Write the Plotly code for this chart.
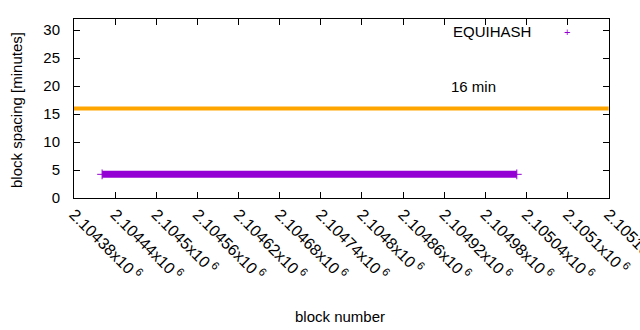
import plotly.graph_objects as go

# ---- data ----
equihash_blocks = [2104421, 2105026]
equihash_spacing = [4.23, 4.23]

target_blocks = [2104380, 2105160]
target_spacing = [16, 16]

x_tick_vals = [2104380, 2104440, 2104500, 2104560, 2104620, 2104680, 2104740,
               2104800, 2104860, 2104920, 2104980, 2105040, 2105100, 2105160]
x_tick_mant = ["2.10438", "2.10444", "2.1045", "2.10456", "2.10462", "2.10468", "2.10474",
               "2.1048", "2.10486", "2.10492", "2.10498", "2.10504", "2.1051", "2.10516"]
x_tick_text = [m + "x10<sup> 6</sup>" for m in x_tick_mant]
y_tick_vals = [0, 5, 10, 15, 20, 25, 30]

FONT = "Liberation Sans, Arial, sans-serif"
PURPLE = "#9400D3"
ORANGE = "#FFA500"

fig = go.Figure()

fig.add_trace(go.Scatter(
    x=target_blocks, y=target_spacing, mode="lines",
    line=dict(color=ORANGE, width=4), showlegend=False, hoverinfo="skip"))

fig.add_trace(go.Scatter(
    x=equihash_blocks, y=equihash_spacing, mode="lines+markers",
    line=dict(color=PURPLE, width=7),
    marker=dict(symbol="cross-thin", size=7, line=dict(color=PURPLE, width=1)),
    showlegend=False, name="EQUIHASH"))

fig.update_layout(
    width=640, height=330,
    margin=dict(l=74, r=31, t=19, b=132, autoexpand=False),
    paper_bgcolor="white", plot_bgcolor="white",
    font=dict(family=FONT, size=15, color="black"),
    showlegend=False,
)

fig.update_xaxes(
    range=[2104380, 2105160.5], tickmode="array", tickvals=x_tick_vals, ticktext=x_tick_text,
    tickangle=45, ticks="inside", ticklen=6, tickcolor="black",
    tickfont=dict(size=16), automargin=False, ticklabeloverflow="allow",
    showline=True, linecolor="black", linewidth=1, mirror="ticks",
    showgrid=False, zeroline=False,
)
fig.update_yaxes(
    range=[0, 32], tickmode="array", tickvals=y_tick_vals,
    ticks="inside", ticklen=6, tickcolor="black", ticklabelstandoff=10,
    automargin=False,
    showline=True, linecolor="black", linewidth=1, mirror="ticks",
    showgrid=False, zeroline=False,
)

annotations = [
    dict(text="16 min", x=2104927, y=20, xref="x", yref="y",
         xanchor="left", yanchor="middle", showarrow=False),
    dict(text="EQUIHASH", x=533, y=32, xref="paper", yref="paper", showarrow=False),
    dict(text="block spacing [minutes]", x=16, y=110, textangle=-90, showarrow=False),
    dict(text="block number", x=340, y=316, showarrow=False),
    dict(text="+", x=567, y=32, showarrow=False, font=dict(size=11, color=PURPLE)),
]
# convert pixel-positioned annotations into paper coordinates
pl, pr, pt, pb = 74, 609, 19, 198
for a in annotations:
    if a.get("xref") == "x":
        continue
    px, py = a["x"], a["y"]
    a["xref"] = "paper"
    a["yref"] = "paper"
    a["x"] = (px - pl) / (pr - pl)
    a["y"] = (pb - py) / (pb - pt)
    if a["text"] == "EQUIHASH":
        a["xanchor"] = "right"
    else:
        a["xanchor"] = "center"
    a["yanchor"] = "middle"
fig.update_layout(annotations=annotations)

fig.write_html("out.html")
